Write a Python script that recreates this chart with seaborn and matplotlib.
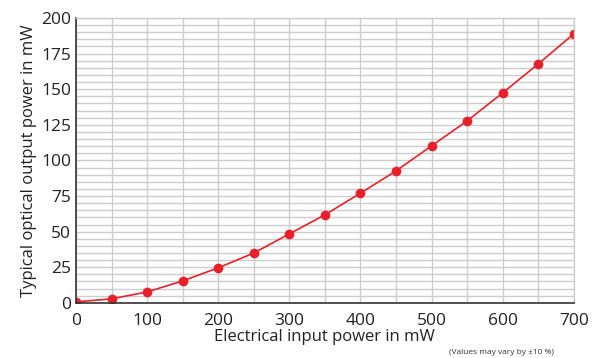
import matplotlib
matplotlib.use('Agg')
import matplotlib.pyplot as plt
from matplotlib.ticker import MultipleLocator
import pandas as pd
import seaborn as sns

# Data
electrical_mw = [0, 50, 100, 150, 200, 250, 300, 350, 400, 450, 500, 550, 600, 650, 700]
optical_mw = [0.7, 2.8, 7.7, 15.4, 24.6, 35.0, 48.4, 61.8, 77.0, 92.6, 110.2, 127.7, 147.4, 167.7, 188.8]

df = pd.DataFrame({'electrical': electrical_mw, 'optical': optical_mw})

sns.set_style('white')
plt.rcParams['font.family'] = ['Open Sans', 'DejaVu Sans']

fig = plt.figure(figsize=(5.94, 3.58), dpi=100)
ax = fig.add_axes([0.128, 0.154, 0.838, 0.796])

sns.lineplot(data=df, x='electrical', y='optical', ax=ax, color='#e8202a',
             marker='o', markersize=7, markeredgewidth=0, linewidth=1.2)

ax.set_xlim(0, 700)
ax.set_ylim(0, 200)
ax.xaxis.set_major_locator(MultipleLocator(100))
ax.xaxis.set_minor_locator(MultipleLocator(50))
ax.yaxis.set_major_locator(MultipleLocator(25))
ax.yaxis.set_minor_locator(MultipleLocator(5))

ax.grid(True, which='both', color='#cccccc', linewidth=1)
ax.set_axisbelow(True)

for side in ['top', 'right']:
    ax.spines[side].set_color('#cccccc')
    ax.spines[side].set_linewidth(1)
for side in ['left', 'bottom']:
    ax.spines[side].set_color('#333333')
    ax.spines[side].set_linewidth(1.2)

ax.tick_params(axis='x', which='major', direction='out', length=4, width=1, color='#333333',
               labelsize=12.5, labelcolor='#222222', pad=3)
ax.tick_params(axis='x', which='minor', direction='out', length=3, width=0.8, color='#555555')
ax.tick_params(axis='y', which='major', direction='inout', length=5, width=1, color='#333333',
               labelsize=12.5, labelcolor='#222222', pad=1)
ax.tick_params(axis='y', which='minor', direction='in', length=3, width=0.8, color='#666666')

ax.set_xlabel('Electrical input power in mW', fontsize=12, color='#222222', labelpad=0)
ax.set_ylabel('Typical optical output power in mW', fontsize=12, color='#222222', labelpad=3)

fig.text(0.756, 0.01, '(Values may vary by \u00b110 %)', fontsize=6, color='#333333')

fig.savefig('out.png', dpi=100)
